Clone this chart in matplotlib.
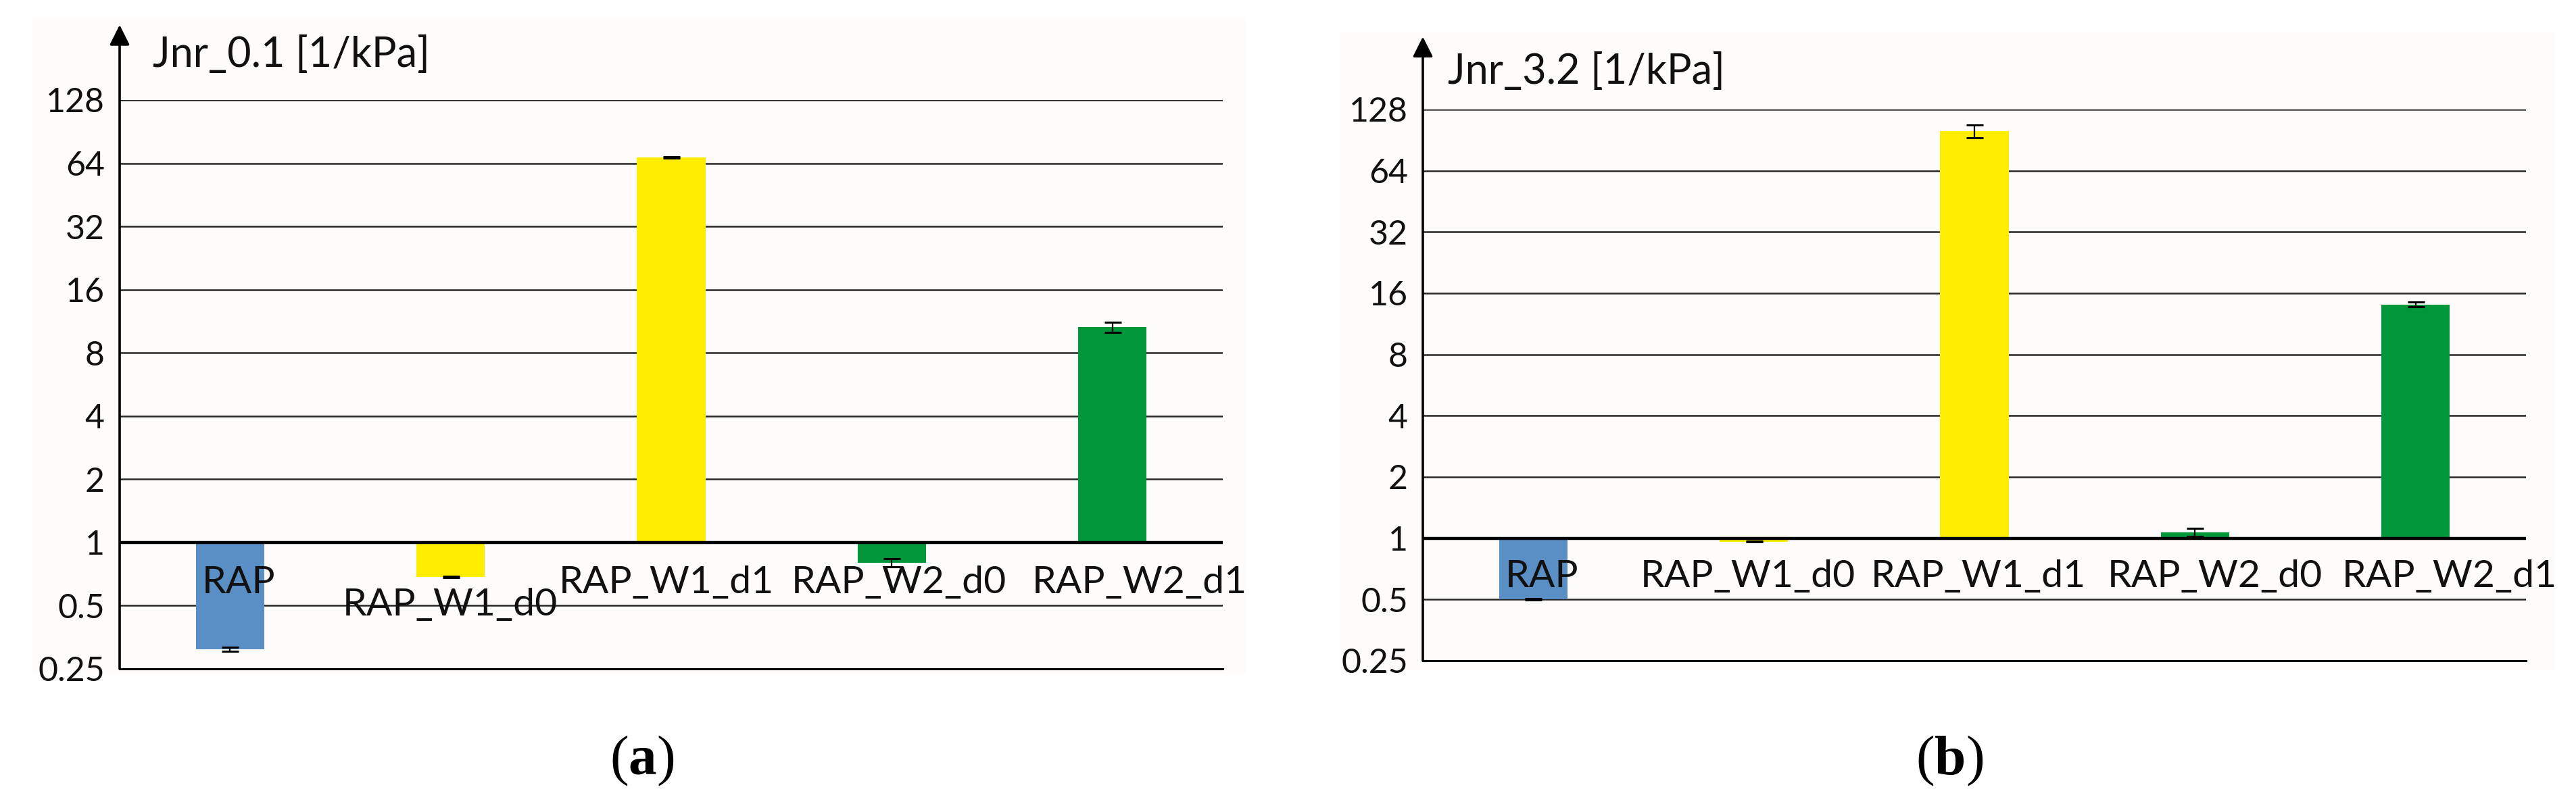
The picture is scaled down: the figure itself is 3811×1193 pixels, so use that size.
import matplotlib
matplotlib.use("Agg")
import matplotlib.pyplot as plt
from matplotlib.patches import Rectangle

plt.rcParams['font.family'] = ['Lato', 'DejaVu Sans']
plt.rcParams['mathtext.fontset'] = 'custom'
plt.rcParams['mathtext.rm'] = 'Liberation Serif'
plt.rcParams['mathtext.bf'] = 'Liberation Serif:bold'

# data
samples = ["RAP", "RAP_W1_d0", "RAP_W1_d1", "RAP_W2_d0", "RAP_W2_d1"]
jnr_01 = [0.31, 0.685, 68.0, 0.80, 10.6]
jnr_01_err = [0.007, 0.005, 0.5, 0.035, 0.6]
jnr_32 = [0.50, 0.963, 100.0, 1.07, 14.1]
jnr_32_err = [0.004, 0.005, 7.0, 0.05, 0.4]
yticks = [0.25, 0.5, 1, 2, 4, 8, 16, 32, 64, 128]
ytick_labels = ["0.25", "0.5", "1", "2", "4", "8", "16", "32", "64", "128"]

bar_colors = ["#5A8FC6", "#FFED00", "#FFED00", "#00963A", "#00963A"]

fig = plt.figure(figsize=(38.11, 11.93), dpi=100)
fig.patch.set_facecolor("white")

# faint off-white panel backgrounds
fig.patches.append(Rectangle((48/3811, 1-997/1193), (1844-48)/3811, (997-25)/1193,
                             transform=fig.transFigure, facecolor="#FDFCFA", edgecolor="none", zorder=-10))
fig.patches.append(Rectangle((1983/3811, 1-992/1193), (3780-1983)/3811, (992-48)/1193,
                             transform=fig.transFigure, facecolor="#FDFCFA", edgecolor="none", zorder=-10))

ax1 = fig.add_axes([177/3811, 1-990/1193, 1632/3811, (990-148)/1193])
ax2 = fig.add_axes([2105/3811, 1-978/1193, 1632/3811, (978-162)/1193])


def draw_panel(ax, vals, errs, title, title_xy, label_dx, label_dy):
    ax.set_facecolor("none")
    ax.set_yscale("log", base=2)
    ax.set_ylim(0.25, 128)
    ax.set_xlim(-0.5, len(samples) - 0.5)
    x = list(range(len(samples)))
    for yv in yticks[1:]:
        ax.axhline(yv, color="#262626", lw=1.8, zorder=1)
    ax.bar(x, [v - 1 for v in vals], bottom=1, width=0.31, color=bar_colors, zorder=2)
    ax.axhline(1, color="black", lw=3.2, zorder=3)
    ax.errorbar(x, vals, yerr=errs, fmt="none", ecolor="black", elinewidth=1.6,
                capsize=9, capthick=2.2, zorder=4)
    ax.set_yticks(yticks)
    ax.set_yticklabels(ytick_labels)
    ax.minorticks_off()
    ax.tick_params(axis="y", length=0, pad=16, labelsize=36, labelcolor="#111111")
    ax.set_xticks([])
    for s in ["top", "right", "left"]:
        ax.spines[s].set_visible(False)
    ax.spines["bottom"].set_color("black")
    ax.spines["bottom"].set_linewidth(2.2)
    ax.annotate("", xy=(0, 1.132), xytext=(0, 0), xycoords="axes fraction",
                arrowprops=dict(arrowstyle="-|>", lw=2.6, color="black", mutation_scale=45,
                                shrinkA=0, shrinkB=0), annotation_clip=False)
    ax.text(title_xy[0], title_xy[1], title, transform=ax.transAxes, fontsize=44,
            ha="left", va="baseline", color="#111111")
    for i, name in enumerate(samples):
        ax.annotate(name, xy=(i, 1), xytext=(label_dx[i], -label_dy[i]),
                    textcoords="offset pixels", ha="center", va="baseline",
                    fontsize=41, zorder=5, color="#111111", annotation_clip=False)


draw_panel(ax1, jnr_01, jnr_01_err, "Jnr_0.1 [1/kPa]", (0.030, 1.058),
           [13, -1, -7, 10, 40], [75, 108, 75, 75, 75])
draw_panel(ax2, jnr_32, jnr_32_err, "Jnr_3.2 [1/kPa]", (0.0227, 1.0466),
           [13, -9, 6, 29, 50], [72, 72, 72, 72, 72])

fig.text(950/3811, 1-1126/1193, r"($\mathbf{a}$)", fontsize=60, family="Liberation Serif",
         ha="center", va="center")
fig.text(2884/3811, 1-1126/1193, r"($\mathbf{b}$)", fontsize=60, family="Liberation Serif",
         ha="center", va="center")

fig.savefig("out.png", dpi=100)
